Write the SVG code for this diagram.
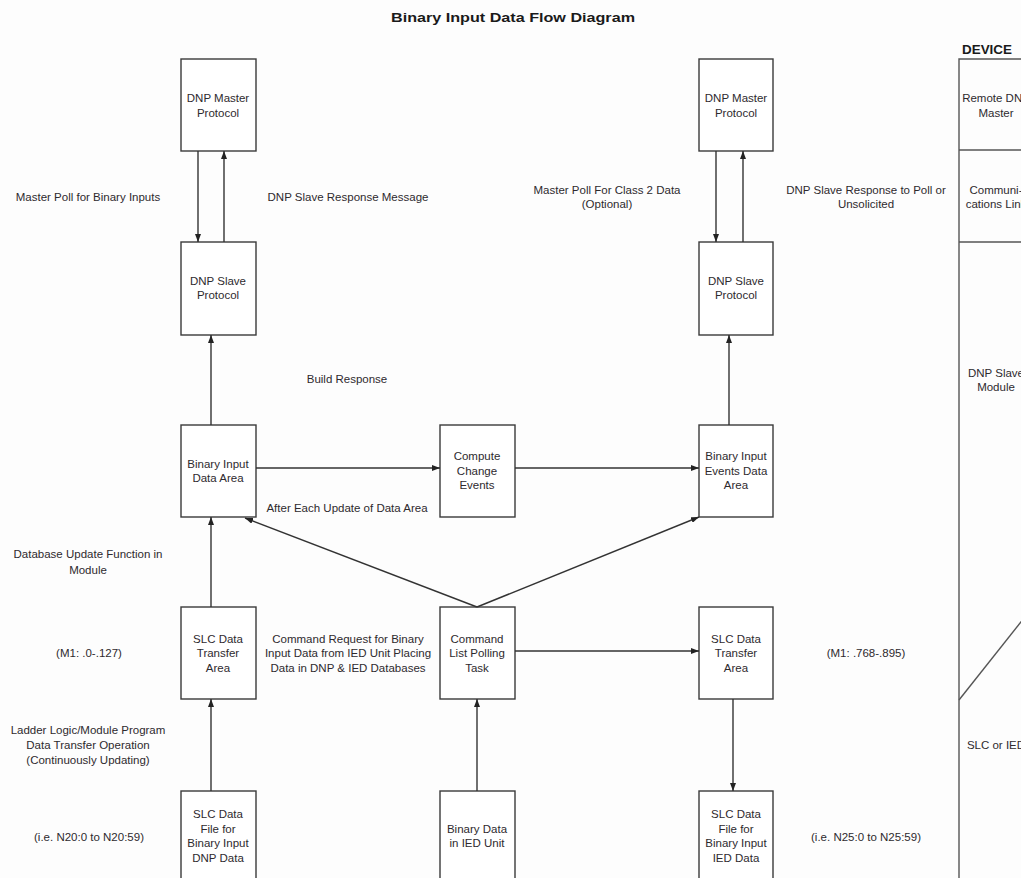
<svg xmlns="http://www.w3.org/2000/svg" width="1021" height="878" viewBox="0 0 1021 878">
<style>
.bg{fill:#fdfdfd}
.box{fill:#ffffff;stroke:#3a3a3a;stroke-width:1.4}
.t{font-family:"Liberation Sans",Arial,sans-serif;font-size:11.5px;fill:#2e2a2e;text-anchor:middle}
.hd{font-family:"Liberation Sans",Arial,sans-serif;font-weight:bold;fill:#1a1a1a;text-anchor:middle}
.ln{stroke:#333;stroke-width:1.4;fill:none}
.pl{stroke:#555;stroke-width:1.4;fill:none}
</style>
<defs>
<marker id="ah" viewBox="0 0 8 6" refX="8" refY="3" markerWidth="8" markerHeight="6" markerUnits="userSpaceOnUse" orient="auto">
<path d="M0,0 L8,3 L0,6 z" fill="#222"/>
</marker>
</defs>
<rect class="bg" x="0" y="0" width="1021" height="878"/>
<text class="hd" x="513" y="22" font-size="13" textLength="244" lengthAdjust="spacingAndGlyphs">Binary Input Data Flow Diagram</text>

<g id="labels">
<text class="t" x="88" y="201">Master Poll for Binary Inputs</text>
<text class="t" x="348" y="201">DNP Slave Response Message</text>
<text class="t" x="607" y="194">Master Poll For Class 2 Data</text>
<text class="t" x="607" y="208">(Optional)</text>
<text class="t" x="866" y="194">DNP Slave Response to Poll or</text>
<text class="t" x="866" y="208">Unsolicited</text>
<text class="t" x="347" y="383">Build Response</text>
<text class="t" x="347" y="512">After Each Update of Data Area</text>
<text class="t" x="88" y="558">Database Update Function in</text>
<text class="t" x="88" y="574">Module</text>
<text class="t" x="89" y="657">(M1: .0-.127)</text>
<text class="t" x="348" y="643">Command Request for Binary</text>
<text class="t" x="348" y="657">Input Data from IED Unit Placing</text>
<text class="t" x="348" y="672">Data in DNP &amp; IED Databases</text>
<text class="t" x="866" y="657">(M1: .768-.895)</text>
<text class="t" x="88" y="734">Ladder Logic/Module Program</text>
<text class="t" x="88" y="749">Data Transfer Operation</text>
<text class="t" x="88" y="764">(Continuously Updating)</text>
<text class="t" x="89" y="841">(i.e. N20:0 to N20:59)</text>
<text class="t" x="866" y="841">(i.e. N25:0 to N25:59)</text>
</g>

<g id="n-master-l"><rect class="box" x="181" y="59" width="75" height="92"/>
<text class="t" x="218" y="102">DNP Master</text><text class="t" x="218" y="117">Protocol</text></g>
<g id="n-slave-l"><rect class="box" x="181" y="242" width="75" height="93"/>
<text class="t" x="218" y="285">DNP Slave</text><text class="t" x="218" y="299">Protocol</text></g>
<g id="n-bida"><rect class="box" x="181" y="425" width="75" height="92"/>
<text class="t" x="218" y="468">Binary Input</text><text class="t" x="218" y="482">Data Area</text></g>
<g id="n-slc-l"><rect class="box" x="181" y="607" width="75" height="92"/>
<text class="t" x="218" y="643">SLC Data</text><text class="t" x="218" y="657">Transfer</text><text class="t" x="218" y="672">Area</text></g>
<g id="n-file-l"><rect class="box" x="181" y="791" width="75" height="110"/>
<text class="t" x="218" y="818">SLC Data</text><text class="t" x="218" y="833">File for</text><text class="t" x="218" y="847">Binary Input</text><text class="t" x="218" y="862">DNP Data</text></g>

<g id="n-compute"><rect class="box" x="440" y="425" width="75" height="92"/>
<text class="t" x="477" y="460">Compute</text><text class="t" x="477" y="475">Change</text><text class="t" x="477" y="489">Events</text></g>
<g id="n-command"><rect class="box" x="440" y="607" width="75" height="92"/>
<text class="t" x="477" y="643">Command</text><text class="t" x="477" y="657">List Polling</text><text class="t" x="477" y="672">Task</text></g>
<g id="n-ied"><rect class="box" x="440" y="791" width="75" height="110"/>
<text class="t" x="477" y="833">Binary Data</text><text class="t" x="477" y="847">in IED Unit</text></g>

<g id="n-master-r"><rect class="box" x="699" y="59" width="74" height="92"/>
<text class="t" x="736" y="102">DNP Master</text><text class="t" x="736" y="117">Protocol</text></g>
<g id="n-slave-r"><rect class="box" x="699" y="242" width="74" height="93"/>
<text class="t" x="736" y="285">DNP Slave</text><text class="t" x="736" y="299">Protocol</text></g>
<g id="n-bie"><rect class="box" x="699" y="425" width="74" height="92"/>
<text class="t" x="736" y="460">Binary Input</text><text class="t" x="736" y="475">Events Data</text><text class="t" x="736" y="489">Area</text></g>
<g id="n-slc-r"><rect class="box" x="699" y="607" width="74" height="92"/>
<text class="t" x="736" y="643">SLC Data</text><text class="t" x="736" y="657">Transfer</text><text class="t" x="736" y="672">Area</text></g>
<g id="n-file-r"><rect class="box" x="699" y="791" width="74" height="110"/>
<text class="t" x="736" y="818">SLC Data</text><text class="t" x="736" y="833">File for</text><text class="t" x="736" y="847">Binary Input</text><text class="t" x="736" y="862">IED Data</text></g>

<g id="device-panel">
<text class="hd" x="987" y="54" font-size="12" textLength="50" lengthAdjust="spacingAndGlyphs">DEVICE</text>
<path class="pl" d="M1030,59 H959 V878"/>
<path class="pl" d="M959,150 H1030 M959,242 H1030"/>
<path class="pl" d="M959,700 L1040,598"/>
<text class="t" x="996" y="102">Remote DNP</text><text class="t" x="996" y="117">Master</text>
<text class="t" x="996" y="194">Communi-</text><text class="t" x="996" y="208">cations Link</text>
<text class="t" x="996" y="377">DNP Slave</text><text class="t" x="996" y="391">Module</text>
<text class="t" x="996" y="749">SLC or IED</text>
</g>

<g id="connectors">
<line class="ln" x1="198" y1="151" x2="198" y2="242" marker-end="url(#ah)"/>
<line class="ln" x1="224" y1="242" x2="224" y2="151" marker-end="url(#ah)"/>
<line class="ln" x1="211" y1="425" x2="211" y2="335" marker-end="url(#ah)"/>
<line class="ln" x1="211" y1="607" x2="211" y2="517" marker-end="url(#ah)"/>
<line class="ln" x1="211" y1="791" x2="211" y2="699" marker-end="url(#ah)"/>
<line class="ln" x1="256" y1="468" x2="440" y2="468" marker-end="url(#ah)"/>
<line class="ln" x1="515" y1="468" x2="699" y2="468" marker-end="url(#ah)"/>
<line class="ln" x1="729" y1="425" x2="729" y2="335" marker-end="url(#ah)"/>
<line class="ln" x1="716" y1="151" x2="716" y2="242" marker-end="url(#ah)"/>
<line class="ln" x1="743" y1="242" x2="743" y2="151" marker-end="url(#ah)"/>
<line class="ln" x1="477" y1="607" x2="245" y2="518" marker-end="url(#ah)"/>
<line class="ln" x1="477" y1="607" x2="699" y2="517" marker-end="url(#ah)"/>
<line class="ln" x1="477" y1="791" x2="477" y2="699" marker-end="url(#ah)"/>
<line class="ln" x1="515" y1="651" x2="699" y2="651" marker-end="url(#ah)"/>
<line class="ln" x1="733" y1="699" x2="733" y2="791" marker-end="url(#ah)"/>
</g>
</svg>
